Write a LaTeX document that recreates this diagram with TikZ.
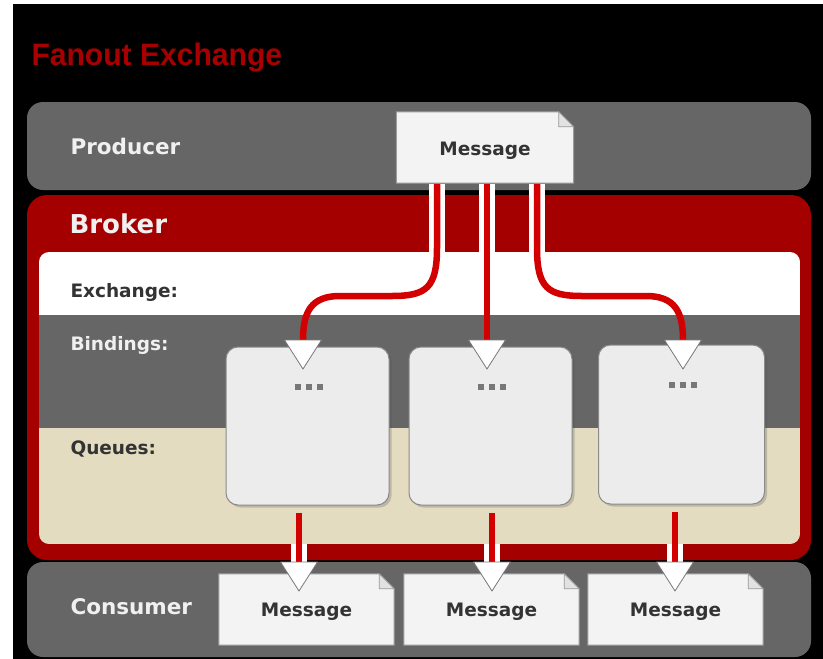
\documentclass[tikz,border=0pt]{standalone}
\usepackage{fontspec}
\setmainfont{DejaVu Sans}
\newfontfamily\titlefont{Liberation Sans}
\usetikzlibrary{calc,shadows}

\definecolor{brokerred}{HTML}{A50000}
\definecolor{flowred}{HTML}{D20000}
\definecolor{bandgray}{HTML}{666666}
\definecolor{queuebeige}{HTML}{E3DCC1}
\definecolor{queuefill}{HTML}{ECECEC}
\definecolor{queueedge}{HTML}{8A8A8A}
\definecolor{docfill}{HTML}{F3F3F3}
\definecolor{docedge}{HTML}{9A9A9A}
\definecolor{foldfill}{HTML}{E2E2E2}
\definecolor{labeldark}{HTML}{333333}
\definecolor{labellight}{HTML}{F0F0F0}
\definecolor{titlered}{HTML}{A80000}
\definecolor{dotgray}{HTML}{777777}

% message sheet with a folded top-right corner, drawn around an empty sizing node
\newcommand\msgdoc[1]{%
  \filldraw[fill=docfill,draw=docedge,line width=1pt]
    (#1.south west) -- (#1.north west) -- ([xshift=-15pt]#1.north east)
    -- ([yshift=-15pt]#1.north east) -- (#1.south east) -- cycle;
  \filldraw[fill=foldfill,draw=docedge,line width=0.8pt]
    ([xshift=-15pt]#1.north east) -- ([xshift=-15pt,yshift=-15pt]#1.north east)
    -- ([yshift=-15pt]#1.north east) -- cycle;}

% white arrow head pointing down, its top edge centred on the coordinate
\newcommand\headtri[1]{%
  \filldraw[fill=white,draw=dotgray,line width=0.8pt]
    ([xshift=-18.5pt]#1) -- ([xshift=18.5pt]#1) -- ([yshift=-29pt]#1) -- cycle;}

% three square dots inside a queue
\newcommand\qdots[1]{%
  \foreach \dx in {-11,0,11}
    \fill[dotgray] ($(#1.north)+(\dx-3+1.5,37)$) rectangle +(6,6);}

\tikzset{
  band/.style={fill=bandgray,rounded corners=16pt},
  docbox/.style={minimum width=175pt,minimum height=71pt,inner sep=0pt},
  msgtext/.style={anchor=base,text=labeldark,font=\bfseries\fontsize{18.5}{22}\selectfont},
  queue/.style={draw=queueedge,fill=queuefill,line width=1pt,rounded corners=12pt,
    minimum width=163pt,minimum height=158pt,inner sep=0pt,
    drop shadow={shadow xshift=2.5pt,shadow yshift=-2.5pt,opacity=0.25,fill=black!70}},
  rowlabel/.style={anchor=base west,font=\bfseries\fontsize{18.5}{22}\selectfont},
  bandlabel/.style={anchor=base west,text=labellight,font=\bfseries\fontsize{21.5}{26}\selectfont},
  flow/.style={draw=flowred,line width=6.5pt},
  casing/.style={draw=white,line width=16pt},
}

\begin{document}
\begin{tikzpicture}[x=1pt,y=-1pt]
\useasboundingbox (0,0) rectangle (823,659);
\fill[white] (0,0) rectangle (823,659);
\fill[black] (13,4) rectangle (823,659);

% title
\node[anchor=base west,text=titlered,font=\titlefont\bfseries\fontsize{31}{36}\selectfont]
  (title) at (28,65) {\scalebox{0.97}[1]{Fanout Exchange}};

% producer, broker and consumer bands
\fill[band] (27,102) rectangle (811,190);
\fill[brokerred,rounded corners=20pt] (27,195) rectangle (811,560);
\fill[band] (27,562) rectangle (811,657);

% inner rows of the broker
\begin{scope}
  \clip[rounded corners=10pt] (39,252) rectangle (800,544);
  \fill[white] (39,252) rectangle (800,315);
  \fill[bandgray] (39,315) rectangle (800,428);
  \fill[queuebeige] (39,428) rectangle (800,544);
\end{scope}

% labels
\node[bandlabel] (lprod) at (67,154) {Producer};
\node[anchor=base west,text=labellight,font=\bfseries\fontsize{26}{30}\selectfont]
  (lbroker) at (66,233) {Broker};
\node[rowlabel,text=labeldark] (lexch) at (67,297) {Exchange:};
\node[rowlabel,text=labellight] (lbind) at (67,350) {Bindings:};
\node[rowlabel,text=labeldark] (lqueue) at (67,454) {Queues:};
\node[bandlabel] (lcons) at (67,614) {Consumer};

% producer message
\node[docbox,minimum width=177pt] (pmsg) at (485,147.5) {};
\msgdoc{pmsg}
\node[msgtext] at ($(pmsg.center)+(0,7.5)$) {Message};

% queues
\node[queue] (q1) at (307.5,426) {};
\node[queue] (q2) at (490.5,426) {};
\node[queue,minimum width=166pt,minimum height=159pt] (q3) at (681.5,424.5) {};
\qdots{q1}
\qdots{q2}
\qdots{q3}

% consumer messages
\node[docbox] (c1) at (306.5,609.5) {};
\node[docbox] (c2) at (491.5,609.5) {};
\node[docbox] (c3) at (675.5,609.5) {};
\msgdoc{c1}
\msgdoc{c2}
\msgdoc{c3}
\node[msgtext] at ($(c1.center)+(0,6.5)$) {Message};
\node[msgtext] at ($(c2.center)+(0,6.5)$) {Message};
\node[msgtext] at ($(c3.center)+(0,6.5)$) {Message};

% connector end points
\coordinate (s1) at ($(pmsg.south)+(-48,1)$);
\coordinate (s2) at ($(pmsg.south)+(2,1)$);
\coordinate (s3) at ($(pmsg.south)+(52,1)$);
\coordinate (t1) at (303,340);
\coordinate (t2) at (487,340);
\coordinate (t3) at (683,340);
\coordinate (u1) at ($(q1.south)+(-8.5,7)$);
\coordinate (u2) at ($(q2.south)+(1.5,7)$);
\coordinate (u3) at ($(q3.south)+(-6.5,7.5)$);
\coordinate (b1) at (299,562);
\coordinate (b2) at (492,562);
\coordinate (b3) at (675,562);

% white gaps where the flows cross the red broker frame
\draw[casing] (s1) -- (s1 |- 0,254);
\draw[casing] (s2) -- (s2 |- 0,254);
\draw[casing] (s3) -- (s3 |- 0,254);
\draw[casing] (u1 |- 0,544) -- (b1);
\draw[casing] (u2 |- 0,544) -- (b2);
\draw[casing] (u3 |- 0,544) -- (b3);

% fanout flows from the producer message to every queue
\draw[flow] (s1) -- (437,248) .. controls (437,288) and (426,296) .. (392,296)
  -- (340,296) .. controls (311,296) and (303,312) .. (t1);
\draw[flow] (s2) -- (t2);
\draw[flow] (s3) -- (537,248) .. controls (537,288) and (548,296) .. (582,296)
  -- (646,296) .. controls (675,296) and (683,312) .. (t3);

% flows from the queues to the consumers
\draw[flow] (u1) -- (b1);
\draw[flow] (u2) -- (b2);
\draw[flow] (u3) -- (b3);

% arrow heads
\headtri{t1}
\headtri{t2}
\headtri{t3}
\headtri{b1}
\headtri{b2}
\headtri{b3}
\end{tikzpicture}
\end{document}
